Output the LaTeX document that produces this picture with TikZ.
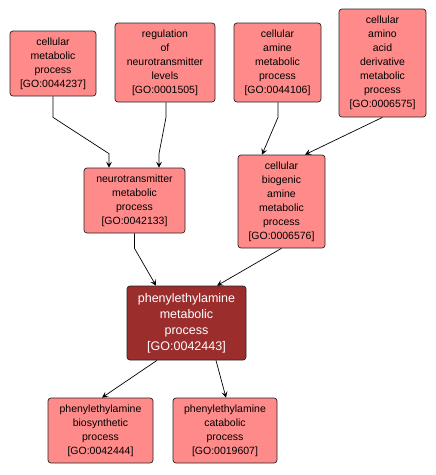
\documentclass[tikz,border=0pt]{standalone}
\usepackage{fontspec}
\setmainfont{Liberation Sans}
\usetikzlibrary{arrows.meta, positioning}
\definecolor{goterm}{RGB}{255,138,138}
\definecolor{gofocus}{RGB}{155,45,45}

\begin{document}
\begin{tikzpicture}[
    x=1pt, y=-1pt,
    every node/.style={draw, rectangle, rounded corners=3pt, align=center, inner sep=0pt, line width=0.7pt, font=\fontsize{10.5}{14}\selectfont},
    term/.style={fill=goterm, draw=black!85},
    focus/.style={fill=gofocus, draw=black!85, text=white, font=\fontsize{12.5}{16}\selectfont},
    arrow/.style={-{Stealth[length=6pt,width=6pt,inset=2.5pt]}, draw=black, line width=0.7pt}
]
\useasboundingbox[fill=white] (0,0) rectangle (436,475);

\node[term, minimum width=86pt, minimum height=65pt] (cmp) at (53,63.5) {cellular\\metabolic\\process\\{}[GO:0044237]};
\node[term, minimum width=100pt, minimum height=79pt] (rnl) at (165,62.5) {regulation\\of\\neurotransmitter\\levels\\{}[GO:0001505]};
\node[term, minimum width=87pt, minimum height=79pt] (camp) at (277.5,62.5) {cellular\\amine\\metabolic\\process\\{}[GO:0044106]};
\node[term, minimum width=87pt, minimum height=108pt] (caad) at (382.5,63) {cellular\\amino\\acid\\derivative\\metabolic\\process\\{}[GO:0006575]};
\node[term, minimum width=101pt, minimum height=65pt] (ntm) at (134.5,200.5) {neurotransmitter\\metabolic\\process\\{}[GO:0042133]};
\node[term, minimum width=87pt, minimum height=93pt] (cbam) at (281.5,201.5) {cellular\\biogenic\\amine\\metabolic\\process\\{}[GO:0006576]};
\node[focus, minimum width=119pt, minimum height=74pt] (pea) at (186.5,323) {phenylethylamine\\metabolic\\process\\{}[GO:0042443]};
\node[term, minimum width=105pt, minimum height=65pt] (peab) at (100.5,430.5) {phenylethylamine\\biosynthetic\\process\\{}[GO:0042444]};
\node[term, minimum width=104pt, minimum height=65pt] (peac) at (225,430.5) {phenylethylamine\\catabolic\\process\\{}[GO:0019607]};

\draw[arrow] (cmp.south) -- ++(0,21) -- ([xshift=-25.5pt,yshift=14pt]ntm.north) -- ([xshift=-25.5pt]ntm.north);
\draw[arrow] ([xshift=1pt]rnl.south) -- ++(0,15) -- ([xshift=24.5pt,yshift=14pt]ntm.north) -- ([xshift=24.5pt]ntm.north);
\draw[arrow] ([xshift=0.5pt]camp.south) -- ++(0,15) -- ([xshift=-19.5pt]cbam.north);
\draw[arrow] (caad.south) -- ([xshift=23.5pt]cbam.north);
\draw[arrow] (ntm.south) -- ++(0,15) -- ([xshift=-30.5pt]pea.north);
\draw[arrow] (cbam.south) -- ([xshift=30.5pt]pea.north);
\draw[arrow] ([xshift=-29.5pt]pea.south) -- ([xshift=1.5pt]peab.north);
\draw[arrow] ([xshift=29.5pt]pea.south) -- ([xshift=1pt]peac.north);
\end{tikzpicture}
\end{document}
